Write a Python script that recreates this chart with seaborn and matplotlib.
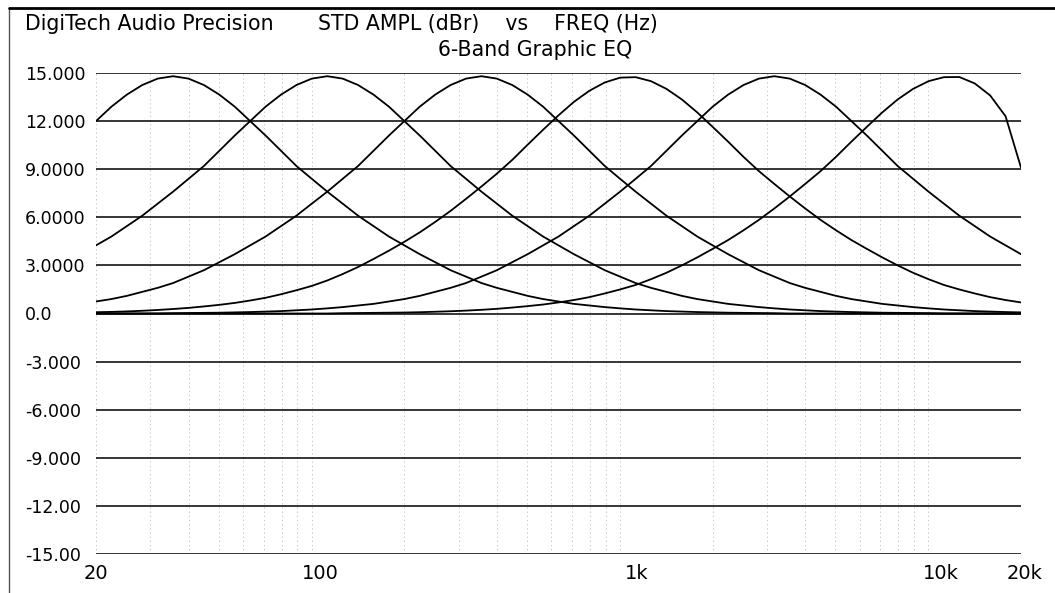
import numpy as np
import pandas as pd
import seaborn as sns
import matplotlib.pyplot as plt
import matplotlib.transforms as mtransforms
from matplotlib.lines import Line2D

# sweep points (Hz), 20 per decade
freq = [20, 22.44, 25.18, 28.25, 31.70, 35.57, 39.91, 44.77, 50.24, 56.37,
        63.25, 70.96, 79.62, 89.34, 100.2, 112.5, 126.2, 141.6, 158.9, 178.3,
        200, 224.4, 251.8, 282.5, 317.0, 355.7, 399.1, 447.7, 502.4, 563.7,
        632.5, 709.6, 796.2, 893.4, 1002, 1125, 1262, 1416, 1589, 1783,
        2000, 2244, 2518, 2825, 3170, 3557, 3991, 4477, 5024, 5637,
        6325, 7096, 7962, 8934, 10024, 11247, 12619, 14159, 15887, 17825, 20000]

band1 = [12.0, 12.9, 13.65, 14.25, 14.65, 14.8, 14.65, 14.25, 13.65, 12.9,
         12.0, 11.1, 10.15, 9.2, 8.4, 7.6, 6.85, 6.1, 5.45, 4.8,
         4.25, 3.7, 3.2, 2.7, 2.3, 1.9, 1.6, 1.35, 1.1, 0.9,
         0.75, 0.6, 0.5, 0.4, 0.32, 0.25, 0.2, 0.15, 0.12, 0.09,
         0.07, 0.05, 0.04, 0.03, 0.02, 0, 0, 0, 0, 0,
         0, 0, 0, 0, 0, 0, 0, 0, 0, 0, 0]
band2 = [4.25, 4.8, 5.45, 6.1, 6.85, 7.6, 8.4, 9.2, 10.15, 11.1,
         12.0, 12.9, 13.65, 14.25, 14.65, 14.8, 14.65, 14.25, 13.65, 12.9,
         12.0, 11.1, 10.15, 9.2, 8.4, 7.6, 6.85, 6.1, 5.45, 4.8,
         4.25, 3.7, 3.2, 2.7, 2.3, 1.9, 1.6, 1.35, 1.1, 0.9,
         0.75, 0.6, 0.5, 0.4, 0.32, 0.25, 0.2, 0.15, 0.12, 0.09,
         0.07, 0.05, 0.04, 0.03, 0.02, 0, 0, 0, 0, 0, 0]
band3 = [0.75, 0.9, 1.1, 1.35, 1.6, 1.9, 2.3, 2.7, 3.2, 3.7,
         4.25, 4.8, 5.45, 6.1, 6.85, 7.6, 8.4, 9.2, 10.15, 11.1,
         12.0, 12.9, 13.65, 14.25, 14.65, 14.8, 14.65, 14.25, 13.65, 12.9,
         12.0, 11.1, 10.15, 9.2, 8.4, 7.6, 6.85, 6.1, 5.45, 4.8,
         4.25, 3.7, 3.2, 2.7, 2.3, 1.9, 1.6, 1.35, 1.1, 0.9,
         0.75, 0.6, 0.5, 0.4, 0.32, 0.25, 0.2, 0.15, 0.12, 0.09, 0.07]
band4 = [0.08, 0.10, 0.13, 0.17, 0.22, 0.28, 0.35, 0.44, 0.54, 0.66,
         0.81, 0.98, 1.2, 1.45, 1.72, 2.06, 2.46, 2.9, 3.4, 3.92,
         4.47, 5.06, 5.71, 6.4, 7.15, 7.92, 8.72, 9.58, 10.53, 11.46,
         12.36, 13.2, 13.89, 14.41, 14.71, 14.74, 14.49, 14.01, 13.35, 12.54,
         11.64, 10.72, 9.77, 8.88, 8.08, 7.3, 6.55, 5.84, 5.19, 4.58,
         4.03, 3.5, 3.0, 2.54, 2.14, 1.78, 1.5, 1.25, 1.02, 0.84, 0.69]
band5 = [0, 0, 0, 0, 0, 0.02, 0.03, 0.04, 0.05, 0.07,
         0.09, 0.12, 0.15, 0.2, 0.25, 0.32, 0.4, 0.5, 0.6, 0.75,
         0.9, 1.1, 1.35, 1.6, 1.9, 2.3, 2.7, 3.2, 3.7, 4.25,
         4.8, 5.45, 6.1, 6.85, 7.6, 8.4, 9.2, 10.15, 11.1, 12.0,
         12.9, 13.65, 14.25, 14.65, 14.8, 14.65, 14.25, 13.65, 12.9, 12.0,
         11.1, 10.15, 9.2, 8.4, 7.6, 6.85, 6.1, 5.45, 4.8, 4.25, 3.7]
band6 = [0, 0, 0, 0, 0, 0, 0, 0, 0, 0,
         0, 0, 0, 0, 0, 0, 0.02, 0.03, 0.04, 0.05,
         0.06, 0.08, 0.11, 0.14, 0.18, 0.23, 0.29, 0.37, 0.46, 0.56,
         0.69, 0.84, 1.02, 1.25, 1.5, 1.78, 2.14, 2.54, 3.0, 3.5,
         4.03, 4.58, 5.19, 5.84, 6.55, 7.3, 8.08, 8.88, 9.77, 10.72,
         11.64, 12.54, 13.35, 14.01, 14.49, 14.74, 14.75, 14.35, 13.6, 12.3, 9.1]

bands = [band1, band2, band3, band4, band5, band6]

y_ticks = [15, 12, 9, 6, 3, 0, -3, -6, -9, -12, -15]
y_labels = ["15.000", "12.000", "9.0000", "6.0000", "3.0000", "0.0",
            "-3.000", "-6.000", "-9.000", "-12.00", "-15.00"]
x_ticks = [20, 100, 1000, 10000, 20000]
x_labels = ["20", "100", "1k", "10k", "20k"]

rows = []
for i, b in enumerate(bands):
    for f, v in zip(freq, b):
        rows.append({"freq": f, "dB": v, "band": i})
df = pd.DataFrame(rows)

sns.set_style("white")
plt.rcParams['font.family'] = ['DejaVu Sans']
plt.rcParams['text.color'] = 'black'
plt.rcParams['xtick.color'] = 'black'
plt.rcParams['ytick.color'] = 'black'

fig = plt.figure(figsize=(10.55, 5.93), dpi=100)
ax = fig.add_axes([96 / 1055, 1 - 554 / 593, 925 / 1055, 481 / 593])

ax.set_xscale("log")
sns.lineplot(data=df, x="freq", y="dB", hue="band", palette=["black"] * 6,
             legend=False, linewidth=1.3, ax=ax, sort=False)

ax.set_xlim(20, 20000)
ax.set_ylim(-15, 15)
for s in ax.spines.values():
    s.set_visible(False)

# horizontal grid: solid black, vertical: faint dotted
for y in y_ticks:
    ax.axhline(y, color="black", lw=1.1, zorder=1)
minor = [m * 10 ** e for e in range(1, 5) for m in range(2, 10)]
minor = [m for m in minor if 20 < m < 20000] + [20, 100, 1000, 10000, 20000]
for m in minor:
    ax.axvline(m, color="#bbbbbb", lw=0.6, ls=(0, (1.5, 3.5)), zorder=0)

ax.set_yticks(y_ticks)
ax.set_yticklabels(y_labels)
ax.set_xticks(x_ticks)
ax.set_xticklabels(x_labels)
ax.minorticks_off()
ax.set_xlabel("")
ax.set_ylabel("")
ax.tick_params(axis="y", length=0, pad=51, labelsize=12.5, labelcolor="black")
ax.tick_params(axis="x", length=0, pad=7, labelsize=14, labelcolor="black")
for lab in ax.get_yticklabels():
    lab.set_horizontalalignment("left")
offsets = [0, 9, 17, 13, 4]
for lab, dx in zip(ax.get_xticklabels(), offsets):
    lab.set_transform(lab.get_transform() +
                      mtransforms.ScaledTranslation(dx / 100, 0, fig.dpi_scale_trans))

fig.text(25 / 1055, 1 - 24 / 593, "DigiTech Audio Precision", fontsize=14.8,
         ha="left", va="center", color="black")
fig.text(318 / 1055, 1 - 24 / 593, "STD AMPL (dBr)    vs    FREQ (Hz)",
         fontsize=14.8, ha="left", va="center", color="black")
fig.text(535 / 1055, 1 - 50 / 593, "6-Band Graphic EQ", fontsize=14.8,
         ha="center", va="center", color="black")

# page border
fig.add_artist(Line2D([9 / 1055, 9 / 1055], [0, 1 - 8 / 593], color="#555555",
                      lw=1, transform=fig.transFigure))
fig.add_artist(Line2D([9 / 1055, 1], [1 - 8 / 593, 1 - 8 / 593], color="black",
                      lw=2, transform=fig.transFigure))

fig.savefig("out.png", dpi=100)
